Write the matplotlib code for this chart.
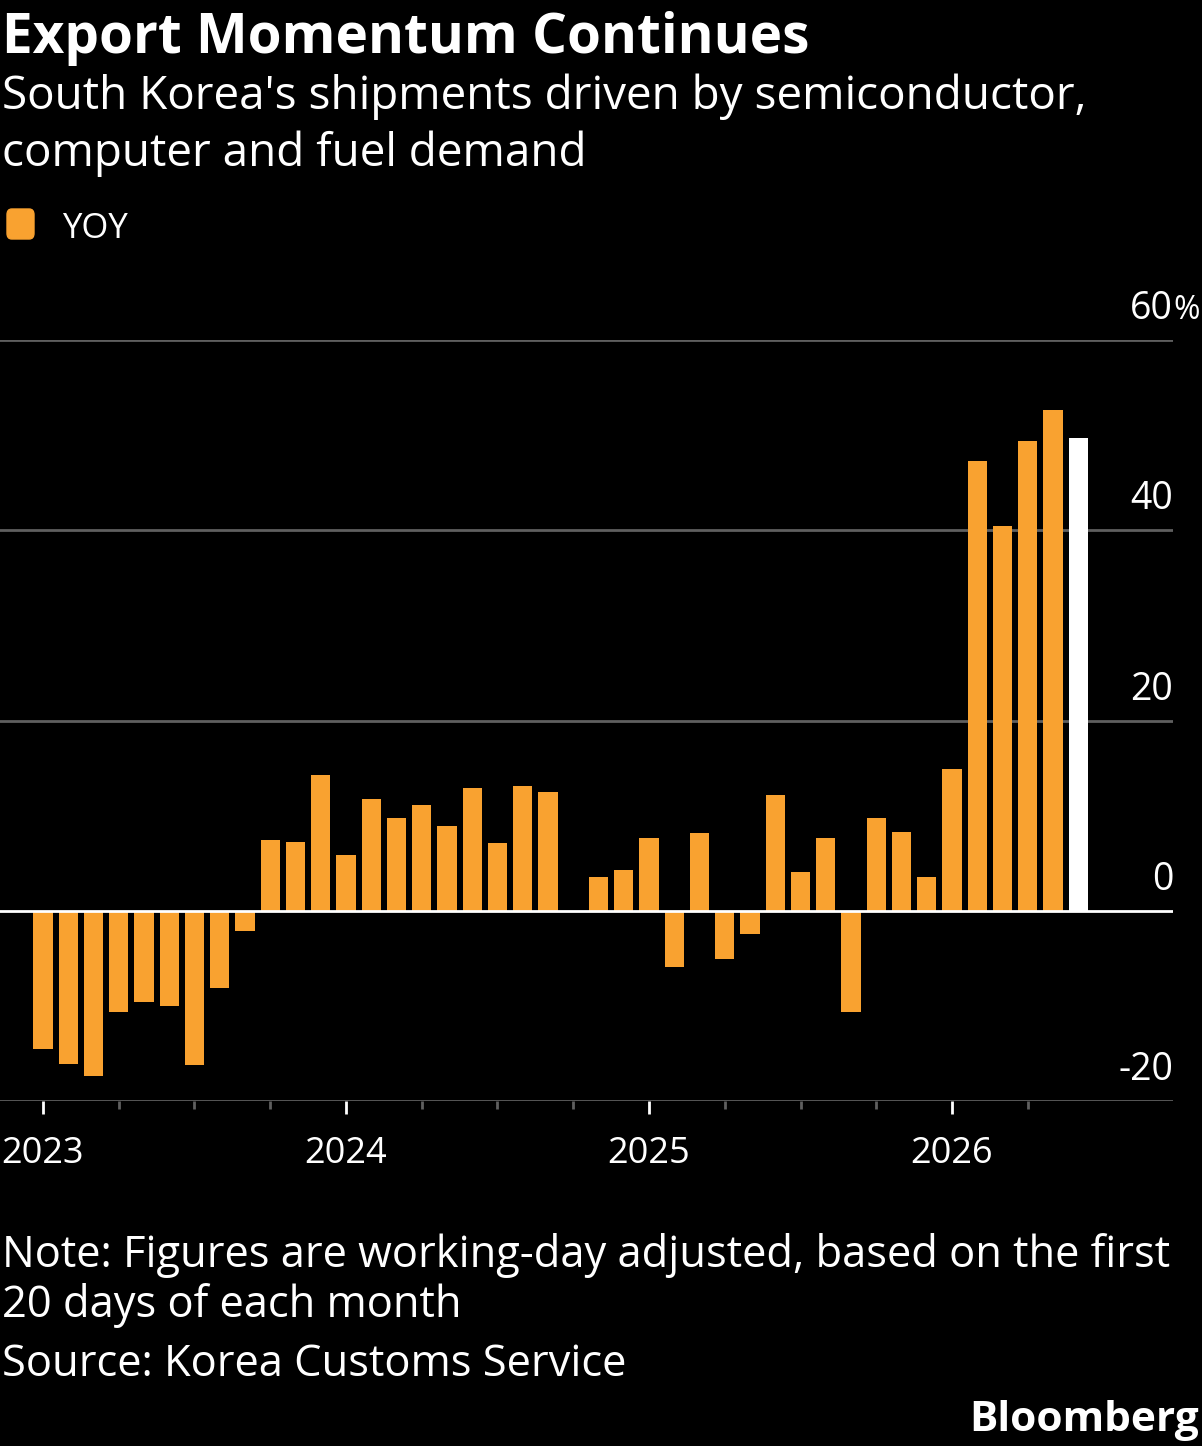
import matplotlib
matplotlib.use("Agg")
import matplotlib.pyplot as plt
from matplotlib.patches import FancyBboxPatch
from matplotlib.transforms import blended_transform_factory

# monthly YOY export growth, Jan 2023 .. Jun 2026 (last one is preliminary)
yoy = [-14.5, -16.1, -17.4, -10.6, -9.6, -10.0, -16.2, -8.1, -2.1, 7.4, 7.2, 14.3,
       5.9, 11.8, 9.8, 11.1, 8.9, 12.9, 7.1, 13.1, 12.5, -0.1, 3.5, 4.3,
       7.7, -5.9, 8.2, -5.1, -2.4, 12.2, 4.1, 7.6, -10.6, 9.7, 8.3, 3.6,
       14.9, 47.3, 40.4, 49.4, 52.6, 49.7]
years = ["2023", "2024", "2025", "2026"]
y_ticks = [-20, 0, 20, 40, 60]

W, H = 1202, 1446
ORANGE = "#F9A230"
GRID = "#5f5f5f"
FONT = ["Open Sans", "DejaVu Sans"]


def fx(px):
    return px / W


def fy(py):
    return 1 - py / H


fig = plt.figure(figsize=(W / 100, H / 100), dpi=100, facecolor="black")

# plot area in pixels: x 0..1173, y 340..1101
ax = fig.add_axes([fx(0), fy(1101), fx(1173), (1101 - 340) / H])
ax.set_facecolor("black")
for s in ax.spines.values():
    s.set_visible(False)

x = list(range(len(yoy)))
colors = [ORANGE] * (len(yoy) - 1) + ["white"]
ax.bar(x, yoy, width=0.76, color=colors, zorder=3)

ax.set_ylim(-20, 60)
ax.set_xlim(-1.7, 44.75)

for t in y_ticks:
    if t == 0:
        ax.axhline(0, color="white", lw=2, zorder=4)
    else:
        ax.axhline(t, color=GRID, lw=2, zorder=1)

trans = blended_transform_factory(ax.transAxes, ax.transData)
for t in y_ticks:
    ax.text(1.0, t + 2.2, str(t), transform=trans, ha="right", va="baseline",
            color="white", fontsize=27, family=FONT)
ax.text(1.0, 60 + 2.2, "%", transform=trans, ha="left", va="baseline",
        color="white", fontsize=23, family=FONT)

# x ticks: years major, quarters minor
major = [12 * i for i in range(len(years))]
minor = [m for m in range(0, len(yoy), 3) if m % 12 != 0]
ax.set_xticks(major)
ax.set_xticklabels(years)
ax.set_xticks(minor, minor=True)
ax.tick_params(axis="x", which="major", length=9, width=2, color="white",
               labelcolor="white", labelsize=26, pad=16)
ax.tick_params(axis="x", which="minor", length=6, width=2, color=GRID)
for lab in ax.get_xticklabels():
    lab.set_family(FONT)
ax.set_yticks([])

# titles
fig.text(fx(2), fy(53), "Export Momentum Continues", color="white",
         fontsize=39.5, fontweight="bold", family=FONT)
fig.text(fx(2), fy(109), "South Korea's shipments driven by semiconductor,",
         color="white", fontsize=33, family=FONT)
fig.text(fx(2), fy(166), "computer and fuel demand",
         color="white", fontsize=33, family=FONT)

# legend
fig.patches.append(FancyBboxPatch((fx(7), fy(239)), fx(27), (239 - 209) / H,
                                  boxstyle="round,pad=0,rounding_size=0.004",
                                  transform=fig.transFigure, color=ORANGE))
fig.text(fx(62), fy(238), "YOY", color="white", fontsize=25, family=FONT)

# notes
fig.text(fx(2), fy(1267), "Note: Figures are working-day adjusted, based on the first",
         color="white", fontsize=31.3, family=FONT)
fig.text(fx(2), fy(1317), "20 days of each month", color="white", fontsize=31.3, family=FONT)
fig.text(fx(2), fy(1376), "Source: Korea Customs Service", color="white",
         fontsize=31.3, family=FONT)
fig.text(fx(1199), fy(1431), "Bloomberg", color="white", fontsize=30.5,
         fontweight="bold", ha="right", family=FONT)

fig.savefig("out.png", dpi=100, facecolor="black")
